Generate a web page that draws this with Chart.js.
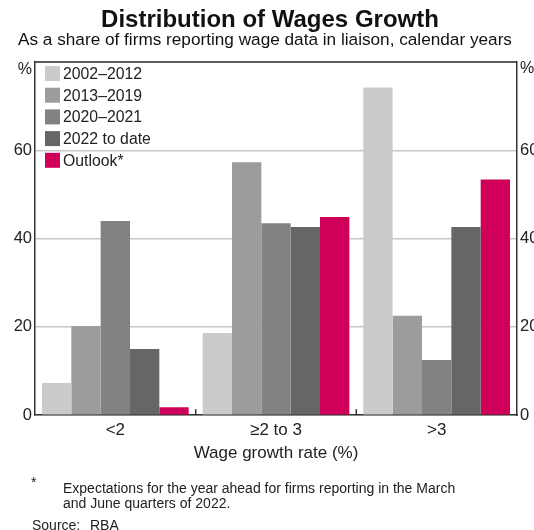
<!DOCTYPE html>
<html><head><meta charset="utf-8">
<script src="https://cdn.jsdelivr.net/npm/chart.js@4"></script>
<style>
html,body{margin:0;padding:0;overflow:hidden;background:#fff;width:534px;height:530px}
#wrap{position:relative;width:548px;height:530px}
canvas{position:absolute;left:0;top:0}
.t{position:absolute;font-family:"Liberation Sans",Arial,sans-serif;color:#111;white-space:nowrap}
.note{position:absolute;font-family:"Liberation Sans",Arial,sans-serif;font-size:14px;color:#222;line-height:15px;white-space:nowrap}
</style></head><body>
<div id="wrap">
<canvas id="c" width="548" height="530"></canvas>
<div class="t" style="left:0;width:540px;text-align:center;top:5px;font-size:24px;font-weight:bold;line-height:28px">Distribution of Wages Growth</div>
<div class="t" style="left:0;width:530px;text-align:center;top:29px;font-size:17.2px;line-height:20px">As a share of firms reporting wage data in liaison, calendar years</div>
<div class="note" style="left:31px;top:475px">*</div>
<div class="note" style="left:63px;top:481px">Expectations for the year ahead for firms reporting in the March<br>and June quarters of 2022.</div>
<div class="note" style="left:32px;top:518px">Source:</div>
<div class="note" style="left:90px;top:518px">RBA</div>
</div>
<script>
const categories = ['<2', '\u22652 to 3', '>3'];
const seriesNames = ['2002\u20132012', '2013\u20132019', '2020\u20132021', '2022 to date', 'Outlook*'];
const s2002_2012 = [7.3, 18.6, 74.2];
const s2013_2019 = [20.2, 57.3, 22.5];
const s2020_2021 = [44.0, 43.5, 12.5];
const s2022_toDate = [15.0, 42.6, 42.6];
const sOutlook = [1.8, 44.9, 53.4];
const seriesColors = ['#cbcbcb', '#9c9c9c', '#828282', '#666666', '#d0005a'];
const yMin = 0, yMax = 80, yStep = 20;
const xTitle = 'Wage growth rate (%)';

const seriesValues = [s2002_2012, s2013_2019, s2020_2021, s2022_toDate, sOutlook];
const FONT = '"Liberation Sans", Arial, sans-serif';

const decor = {
  id: 'decor',
  afterDraw(chart) {
    const ctx = chart.ctx, a = chart.chartArea, xs = chart.scales.x;
    ctx.save();
    ctx.strokeStyle = '#333'; ctx.lineWidth = 1.5;
    ctx.beginPath(); ctx.moveTo(a.left, a.top); ctx.lineTo(a.right, a.top); ctx.stroke();
    for (let i = 1; i < categories.length; i++) {
      const x = (xs.getPixelForTick(i - 1) + xs.getPixelForTick(i)) / 2;
      ctx.beginPath(); ctx.moveTo(x, a.bottom); ctx.lineTo(x, a.bottom - 6); ctx.stroke();
    }
    ctx.fillStyle = '#222'; ctx.font = '16px ' + FONT; ctx.textBaseline = 'middle';
    ctx.textAlign = 'right'; ctx.fillText('%', a.left - 3, a.top + 8);
    ctx.textAlign = 'left'; ctx.fillText('%', a.right + 3, a.top + 7);
    ctx.font = '15.8px ' + FONT;
    chart.data.datasets.forEach((ds, i) => {
      const y = a.top + 11.5 + i * 21.7;
      ctx.fillStyle = ds.backgroundColor;
      ctx.fillRect(a.left + 10, y - 7.5, 15, 15);
      ctx.fillStyle = '#222';
      ctx.fillText(ds.label, a.left + 28, y + 1);
    });
    ctx.restore();
  }
};

new Chart(document.getElementById('c'), {
  type: 'bar',
  data: {
    labels: categories,
    datasets: seriesNames.map((n, i) => ({
      label: n,
      data: seriesValues[i],
      backgroundColor: seriesColors[i],
      borderWidth: 0,
      categoryPercentage: 0.913,
      barPercentage: 1.0,
      yAxisID: 'y'
    }))
  },
  options: {
    responsive: false,
    devicePixelRatio: 1,
    animation: false,
    layout: { padding: { top: 62, bottom: 66, left: 0, right: 0 } },
    plugins: { legend: { display: false }, title: { display: false }, tooltip: { enabled: false } },
    scales: {
      x: {
        grid: { display: false, drawTicks: false },
        border: { display: true, color: '#333', width: 1.5 },
        ticks: { color: '#222', font: { family: FONT, size: 17 }, padding: 5, maxRotation: 0 },
        title: { display: true, text: xTitle, color: '#222', font: { family: FONT, size: 17 }, padding: { top: -2, bottom: 0 } }
      },
      y: {
        position: 'left', min: yMin, max: yMax,
        ticks: { stepSize: yStep, color: '#222', font: { family: FONT, size: 16.5 }, padding: 3,
                 callback: v => v === yMax ? '' : v },
        grid: { color: '#c8c8c8', lineWidth: 1.5, drawTicks: false },
        border: { display: true, color: '#333', width: 1.5 },
        afterFit(s) { s.width = 35; }
      },
      y2: {
        position: 'right', min: yMin, max: yMax,
        ticks: { stepSize: yStep, color: '#222', font: { family: FONT, size: 16.5 }, padding: 3,
                 callback: v => v === yMax ? '' : v },
        grid: { display: false, drawTicks: false },
        border: { display: true, color: '#333', width: 1.5 },
        afterFit(s) { s.width = 31; }
      }
    }
  },
  plugins: [decor]
});
</script>
</body></html>
